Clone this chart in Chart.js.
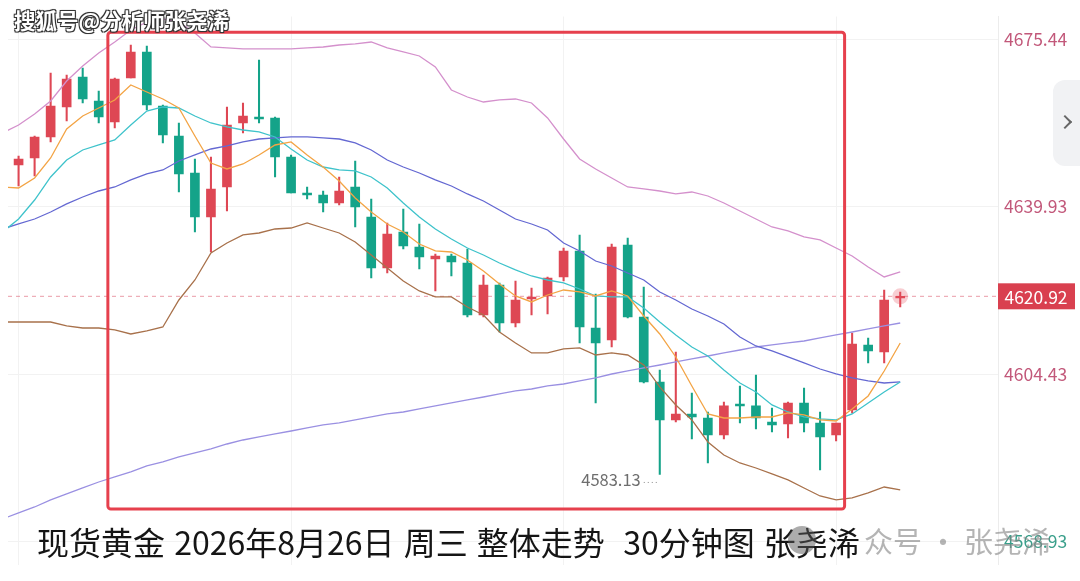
<!DOCTYPE html>
<html>
<head>
<meta charset="utf-8">
<script src="https://cdn.jsdelivr.net/npm/chart.js@4.4.1/dist/chart.umd.min.js"></script>
<style>
html, body { margin: 0; padding: 0; background: #fff; overflow: hidden; }
#wrap { position: relative; width: 1080px; height: 581px; font-family: "Noto Sans CJK SC", "Noto Sans", sans-serif; }
#goldChart { position: absolute; left: 0; top: 0; }
.title { position: absolute; left: 37px; top: 519px; font-size: 32px; line-height: 44px; color: #151515; white-space: pre; word-spacing: 2px; }
.mark { position: absolute; left: 14px; top: 5px; font-size: 21.5px; font-weight: bold; color: #fff; line-height: 30px;
        text-shadow: 1px 1px 0 #333, -1px -1px 0 #333, 1px -1px 0 #333, -1px 1px 0 #333, 0 0 2px #000; }
.logo { position: absolute; left: 788px; top: 526px; width: 28px; height: 28px; border-radius: 50%; background: rgba(90,90,90,0.5); }
.mark2 { position: absolute; left: 864px; top: 519px; font-size: 29px; line-height: 42px; color: rgba(130,130,130,0.6); white-space: pre; }
.tab { position: absolute; left: 1053px; top: 80px; width: 30px; height: 86px; background: #f1f2f4; border-radius: 12px 0 0 12px; }
.tab i { position: absolute; left: 7px; top: 37px; width: 8px; height: 8px; border-top: 2px solid #666; border-right: 2px solid #666; transform: rotate(45deg); }
</style>
</head>
<body>
<div id="wrap">
  <canvas id="goldChart" width="1080" height="581"></canvas>
  <div class="mark">搜狐号@分析师张尧浠</div>
  <div class="tab"><i></i></div>
  <div class="title">现货黄金 2026年8月26日 周三 整体走势  30分钟图 张尧浠</div>
  <div class="logo"></div>
  <div class="mark2">众号 · 张尧浠</div>
</div>
<script>
// 30 minute bars, first entry is the bar before the visible window (only the averages show it)
const times = ['08-25 09:00','08-25 09:30','08-25 10:00','08-25 10:30','08-25 11:00','08-25 11:30','08-25 12:00','08-25 12:30',
    '08-25 13:00','08-25 13:30','08-25 14:00','08-25 14:30','08-25 15:00','08-25 15:30','08-25 16:00','08-25 16:30',
    '08-25 17:00','08-25 17:30','08-25 18:00','08-25 18:30','08-25 19:00','08-25 19:30','08-25 20:00','08-25 20:30',
    '08-25 21:00','08-25 21:30','08-25 22:00','08-25 22:30','08-25 23:00','08-25 23:30','08-26 00:00','08-26 00:30',
    '08-26 01:00','08-26 01:30','08-26 02:00','08-26 02:30','08-26 03:00','08-26 03:30','08-26 04:00','08-26 04:30',
    '08-26 05:00','08-26 05:30','08-26 06:00','08-26 06:30','08-26 07:00','08-26 07:30','08-26 08:00','08-26 08:30',
    '08-26 09:00','08-26 09:30','08-26 10:00','08-26 10:30','08-26 11:00','08-26 11:30','08-26 12:00','08-26 12:30',
    '08-26 13:00'];

const open = [null, 4648.78, 4650.26, 4654.72, 4661.08, 4667.45, 4662.36, 4657.90, 4667.23, 4672.75, 4661.29, 4654.93, 4647.08,
    4637.75, 4644.11, 4657.69, 4658.96, 4658.75, 4650.48, 4642.84, 4642.41, 4640.72, 4644.11, 4637.75, 4626.93, 4634.57, 4631.38,
    4628.84, 4629.48, 4627.99, 4616.96, 4623.32, 4615.26, 4620.35, 4620.99, 4625.02, 4630.54, 4614.20, 4611.66, 4631.81, 4616.53,
    4602.75, 4594.69, 4595.96, 4595.11, 4591.50, 4598.08, 4597.66, 4594.26, 4593.84, 4598.29, 4594.05, 4591.50, 4596.81, 4610.60,
    4609.11, 4620.57];
const high = [null, 4650.69, 4654.93, 4668.29, 4667.87, 4669.36, 4664.48, 4667.23, 4674.23, 4674.02, 4661.51, 4657.69, 4650.05,
    4650.48, 4661.08, 4661.93, 4671.05, 4658.96, 4650.90, 4644.11, 4643.26, 4646.23, 4649.63, 4641.57, 4636.48, 4639.45, 4636.26,
    4629.90, 4629.90, 4630.96, 4625.44, 4623.75, 4624.17, 4622.69, 4625.02, 4631.17, 4633.93, 4621.41, 4632.02, 4633.29, 4622.90,
    4605.29, 4609.11, 4600.41, 4596.38, 4598.50, 4601.90, 4604.23, 4597.23, 4598.50, 4601.47, 4596.38, 4594.05, 4613.14, 4612.08,
    4622.26, 4621.84];
const low = [null, 4644.32, 4646.45, 4653.66, 4658.11, 4661.93, 4657.69, 4656.63, 4667.23, 4660.45, 4653.45, 4643.05, 4634.57,
    4630.32, 4639.02, 4655.57, 4657.69, 4646.23, 4642.84, 4641.57, 4638.81, 4640.29, 4635.63, 4624.81, 4625.87, 4630.96, 4626.72,
    4622.05, 4625.23, 4616.53, 4616.53, 4613.35, 4614.41, 4616.96, 4617.17, 4624.17, 4611.02, 4598.29, 4610.17, 4616.32, 4602.53,
    4583.13, 4594.26, 4590.66, 4585.56, 4590.66, 4594.05, 4592.78, 4592.14, 4590.87, 4592.14, 4584.08, 4590.23, 4596.17, 4606.78,
    4606.78, 4618.66];
const close = [null, 4650.05, 4654.72, 4661.29, 4667.02, 4662.78, 4658.96, 4667.02, 4672.75, 4661.51, 4655.14, 4646.87, 4637.75,
    4643.69, 4657.26, 4659.17, 4658.54, 4650.48, 4642.84, 4642.41, 4640.72, 4643.26, 4639.87, 4626.93, 4634.14, 4631.60, 4629.26,
    4629.48, 4628.20, 4616.96, 4623.32, 4615.26, 4620.14, 4620.78, 4624.81, 4630.54, 4614.41, 4611.02, 4631.38, 4616.53, 4602.75,
    4594.69, 4595.96, 4595.32, 4591.50, 4597.66, 4597.66, 4595.11, 4593.63, 4598.29, 4594.05, 4591.08, 4594.05, 4610.81, 4609.32,
    4620.14, 4620.92];

const ma5 = [4644.11, 4643.90, 4646.02, 4650.26, 4656.42, 4659.17, 4660.87, 4662.57, 4665.75, 4664.26, 4662.78, 4660.87, 4654.93,
    4649.20, 4647.93, 4648.99, 4650.90, 4653.02, 4653.66, 4650.90, 4648.35, 4645.38, 4641.78, 4638.81, 4636.26, 4634.57, 4632.02,
    4630.54, 4630.32, 4628.63, 4626.29, 4623.54, 4620.99, 4619.72, 4621.20, 4622.26, 4621.84, 4620.99, 4622.05, 4620.99, 4616.75,
    4612.93, 4608.05, 4601.90, 4595.96, 4595.11, 4595.11, 4595.32, 4595.32, 4596.17, 4595.75, 4594.69, 4594.47, 4597.02, 4599.78,
    4605.08, 4611.02];
const ma10 = [4634.57, 4637.32, 4641.35, 4646.23, 4649.84, 4651.96, 4653.02, 4654.08, 4657.26, 4660.23, 4661.08, 4660.87, 4659.17,
    4657.69, 4656.84, 4656.20, 4655.78, 4654.72, 4652.17, 4649.84, 4648.35, 4647.72, 4647.51, 4646.23, 4643.90, 4640.72, 4637.75,
    4635.20, 4633.08, 4631.17, 4629.69, 4627.99, 4626.51, 4625.23, 4624.38, 4623.75, 4622.47, 4620.99, 4620.78, 4620.78, 4618.44,
    4615.47, 4612.72, 4610.17, 4608.26, 4605.29, 4602.53, 4600.63, 4597.87, 4596.38, 4595.32, 4594.90, 4594.69, 4595.96, 4598.29,
    4600.63, 4602.75];
const bollMid = [4635.20, 4636.26, 4637.32, 4638.81, 4640.51, 4641.99, 4643.26, 4644.11, 4645.60, 4646.87, 4647.72, 4649.63, 4650.90,
    4652.17, 4652.81, 4653.66, 4654.29, 4654.51, 4654.72, 4654.72, 4654.51, 4654.29, 4653.45, 4651.96, 4649.84, 4648.35, 4647.08,
    4645.60, 4644.32, 4642.63, 4641.14, 4639.23, 4637.32, 4636.26, 4634.99, 4632.23, 4630.54, 4628.41, 4627.35, 4625.87, 4624.38,
    4621.84, 4620.14, 4618.23, 4616.75, 4615.05, 4612.29, 4610.38, 4609.32, 4608.05, 4606.78, 4605.50, 4604.44, 4603.60, 4602.96,
    4602.53, 4602.75];
const bollUp = [4655.57, 4657.26, 4659.60, 4662.36, 4666.60, 4669.78, 4672.54, 4674.87, 4677.42, 4679.11, 4679.75, 4679.11, 4676.78,
    4673.81, 4673.60, 4673.39, 4673.39, 4673.39, 4673.39, 4673.60, 4673.81, 4674.23, 4674.45, 4674.87, 4673.60, 4672.75, 4671.90,
    4669.57, 4664.69, 4663.20, 4662.14, 4662.57, 4662.78, 4661.93, 4658.75, 4654.29, 4650.05, 4647.93, 4646.02, 4644.11, 4643.69,
    4643.26, 4642.63, 4643.05, 4642.20, 4640.72, 4639.02, 4637.32, 4635.63, 4634.78, 4633.51, 4632.87, 4631.17, 4629.48, 4627.14,
    4625.02, 4626.08];
const bollDn = [4615.47, 4615.47, 4615.47, 4615.47, 4614.63, 4614.20, 4614.20, 4613.78, 4612.93, 4613.57, 4614.41, 4620.14, 4624.38,
    4630.11, 4632.23, 4633.93, 4634.35, 4635.20, 4635.41, 4636.48, 4635.41, 4634.35, 4632.44, 4629.69, 4626.93, 4624.17, 4622.05,
    4620.78, 4620.78, 4618.66, 4616.96, 4613.35, 4611.02, 4608.90, 4608.90, 4609.75, 4609.96, 4608.47, 4608.90, 4608.47, 4606.35,
    4601.69, 4597.87, 4594.69, 4590.02, 4587.26, 4585.56, 4584.50, 4583.23, 4581.96, 4580.26, 4578.56, 4577.72, 4578.14, 4579.20,
    4580.47, 4579.84];
const maLong = [4573.69, 4574.96, 4576.23, 4577.72, 4578.99, 4580.26, 4581.53, 4582.59, 4583.66, 4584.93, 4585.78, 4586.84, 4587.69,
    4588.53, 4589.59, 4590.44, 4591.08, 4591.72, 4592.35, 4592.99, 4593.63, 4594.05, 4594.69, 4595.32, 4595.96, 4596.38, 4597.02,
    4597.66, 4598.29, 4598.93, 4599.56, 4600.20, 4600.84, 4601.26, 4601.90, 4602.32, 4602.96, 4603.60, 4604.44, 4605.08, 4605.72,
    4606.35, 4606.99, 4607.63, 4608.26, 4608.90, 4609.53, 4610.17, 4610.60, 4611.02, 4611.44, 4612.08, 4612.72, 4613.35, 4613.99,
    4614.63, 4615.26];

const priceTicks = [4675.44, 4639.93, 4604.43, 4568.93];
const gridBars = [0, 17, 34, 51];

const RED = '#de4754';
const GREEN = '#14a389';
const FONT = '"Noto Sans CJK SC", "Noto Sans", sans-serif';

// bar position on the x axis: the first entry sits one step left of the first candle
const pos = i => i - 1;

const bodies = [], wicks = [], colors = [];
for (let i = 0; i < times.length; i++) {
    if (open[i] === null) continue;
    bodies.push({ x: pos(i), y: [open[i], close[i]] });
    wicks.push({ x: pos(i), y: [low[i], high[i]] });
    colors.push(close[i] >= open[i] ? RED : GREEN);
}

function lineSet(values, color, label) {
    return {
        type: 'line',
        label: label,
        data: values.map((v, i) => ({ x: pos(i), y: v })),
        borderColor: color,
        borderWidth: 1.3,
        pointRadius: 0,
        tension: 0,
        order: 1
    };
}

const last = close.length - 1;
// the drawn frame from the screenshot, in bar index / price units
const frame = { from: 5.57, to: 51.53, top: 4676.93, bottom: 4575.81 };

const overlay = {
    id: 'overlay',
    beforeDatasetsDraw(chart) {
        const { ctx, chartArea, scales: { y } } = chart;
        const py = y.getPixelForValue(close[last]);
        ctx.save();
        ctx.strokeStyle = 'rgba(220,90,110,0.6)';
        ctx.setLineDash([4, 4]);
        ctx.lineWidth = 1;
        ctx.beginPath();
        ctx.moveTo(chartArea.left, py);
        ctx.lineTo(chartArea.right, py);
        ctx.stroke();
        ctx.restore();
    },
    afterDraw(chart) {
        const { ctx, chartArea, scales: { x, y } } = chart;
        ctx.save();

        // lowest low marker
        let lo = 1;
        for (let i = 1; i < low.length; i++) if (low[i] < low[lo]) lo = i;
        const lx = x.getPixelForValue(pos(lo));
        const ly = y.getPixelForValue(low[lo]) + 5;
        ctx.fillStyle = '#6e6e6e';
        ctx.font = '16.5px ' + FONT;
        ctx.textAlign = 'right';
        ctx.textBaseline = 'middle';
        ctx.fillText(low[lo].toFixed(2), lx - 19, ly);
        ctx.strokeStyle = '#8a8a8a';
        ctx.setLineDash([1, 3]);
        ctx.beginPath();
        ctx.moveTo(lx - 16, ly + 3);
        ctx.lineTo(lx - 1, ly + 3);
        ctx.stroke();
        ctx.setLineDash([]);

        // red frame
        const fx0 = x.getPixelForValue(frame.from), fx1 = x.getPixelForValue(frame.to);
        const fy0 = y.getPixelForValue(frame.top), fy1 = y.getPixelForValue(frame.bottom);
        ctx.strokeStyle = '#e6404d';
        ctx.lineWidth = 3;
        ctx.beginPath();
        ctx.roundRect(fx0, fy0, fx1 - fx0, fy1 - fy0, 3);
        ctx.stroke();

        // last price tag
        const py = y.getPixelForValue(close[last]);
        ctx.fillStyle = '#d9404f';
        ctx.fillRect(chartArea.right, py - 13, 77, 26);
        ctx.fillStyle = '#fff';
        ctx.font = '17.5px ' + FONT;
        ctx.textAlign = 'center';
        ctx.fillText(close[last].toFixed(2), chartArea.right + 38, py + 1);
        ctx.restore();
    }
};

const chart = new Chart(document.getElementById('goldChart'), {
    type: 'bar',
    data: {
        datasets: [
            {
                type: 'line',
                label: 'last',
                data: [{ x: pos(last), y: close[last] }],
                showLine: false,
                pointRadius: 8,
                pointBackgroundColor: 'rgba(230,80,95,0.28)',
                pointBorderWidth: 0,
                order: 0
            },
            lineSet(ma5, '#f3a445', 'MA5'),
            lineSet(ma10, '#3fc3cb', 'MA10'),
            lineSet(bollMid, '#6468d2', 'MID'),
            lineSet(bollUp, '#d490cc', 'UPPER'),
            lineSet(bollDn, '#a8714b', 'LOWER'),
            lineSet(maLong, '#9a90e2', 'MA60'),
            {
                label: 'body',
                data: bodies,
                backgroundColor: colors,
                barThickness: 9,
                minBarLength: 1.5,
                grouped: false,
                order: 2
            },
            {
                label: 'wick',
                data: wicks,
                backgroundColor: colors,
                barThickness: 1.4,
                grouped: false,
                order: 3
            }
        ]
    },
    options: {
        responsive: false,
        animation: false,
        layout: { padding: 0 },
        plugins: {
            legend: { display: false },
            tooltip: { enabled: false }
        },
        scales: {
            x: {
                type: 'linear',
                offset: false,
                min: -0.66,
                max: 61.1,
                grid: { color: '#f2f2f2', drawTicks: false, offset: false },
                border: { display: false },
                ticks: { display: false },
                afterBuildTicks: s => { s.ticks = gridBars.map(v => ({ value: v })); },
                afterFit: s => { s.height = 0; }
            },
            y: {
                position: 'right',
                min: 4560.53,
                max: 4683.78,
                grid: { color: '#f2f2f2', drawTicks: false },
                border: { display: true, color: '#ececec' },
                ticks: {
                    padding: 6,
                    font: { size: 17.5, family: FONT },
                    color: c => c.index === priceTicks.length - 1 ? '#3a9f8b' : '#c2587a',
                    callback: v => v.toFixed(2)
                },
                afterBuildTicks: s => { s.ticks = priceTicks.map(v => ({ value: v })); },
                afterFit: s => { s.width = 82; }
            }
        }
    },
    plugins: [overlay]
});

// stretch the price range over the plot height so one tick step (35.5) spans about 167px,
// with the top tick about 39px from the top of the picture
const pxPerPrice = 4.714, topTickPx = 39.3;
const area = chart.chartArea;
chart.options.scales.y.max = priceTicks[0] + (topTickPx - area.top) / pxPerPrice;
chart.options.scales.y.min = priceTicks[0] - (area.bottom - topTickPx) / pxPerPrice;
chart.update();
</script>
</body>
</html>
